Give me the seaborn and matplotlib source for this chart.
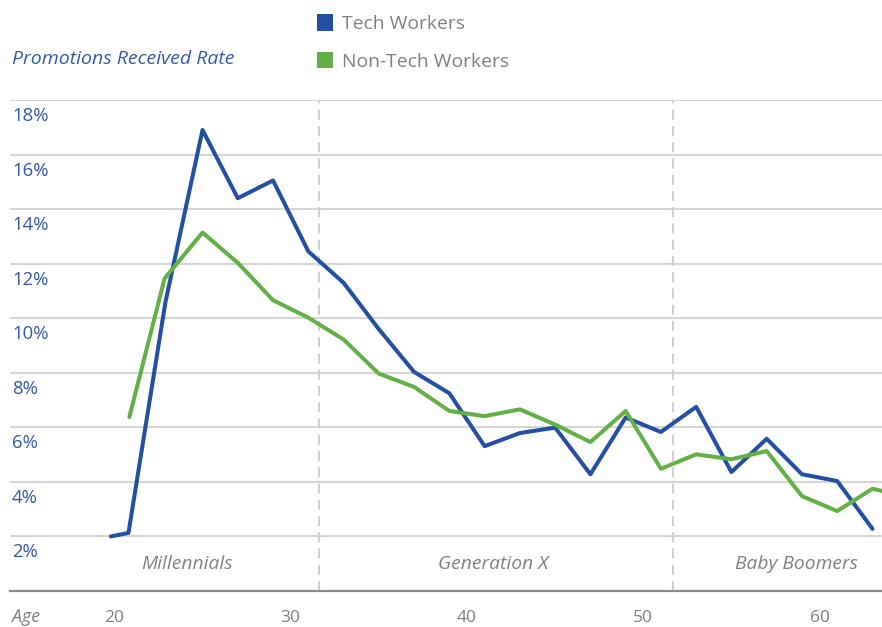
import matplotlib
matplotlib.use("Agg")
import matplotlib.pyplot as plt
import seaborn as sns
import pandas as pd
from matplotlib.patches import Patch

# ---- data ----
tech_ages = [19.8, 20.8, 22.9, 25, 27, 29, 31, 33, 35, 37, 39, 41, 43, 45, 47, 49, 51, 53, 55, 57, 59, 61, 63]
tech_vals = [2.0, 2.13, 10.6, 16.9, 14.4, 15.05, 12.45, 11.3, 9.6, 8.03, 7.25, 5.31, 5.79, 5.99, 4.28, 6.36, 5.83, 6.75, 4.36, 5.58, 4.28, 4.03, 2.28]
nontech_ages = [20.85, 22.85, 25, 27, 29, 31, 33, 35, 37, 39, 41, 43, 45, 47, 49, 51, 53, 55, 57, 59, 61, 63, 65]
nontech_vals = [6.38, 11.46, 13.14, 12.03, 10.66, 10.02, 9.22, 7.97, 7.48, 6.6, 6.41, 6.66, 6.1, 5.46, 6.6, 4.48, 5.01, 4.83, 5.13, 3.48, 2.93, 3.75, 3.45]
series_names = ["Tech Workers", "Non-Tech Workers"]
y_ticks = [2, 4, 6, 8, 10, 12, 14, 16, 18]
x_ticks = [20, 30, 40, 50, 60]
gen_bounds = [31.6, 51.7]
gen_labels = ["Millennials", "Generation X", "Baby Boomers"]
gen_label_pos = [24.1, 41.5, 58.7]

BLUE = "#2450a4"
GREEN = "#62b046"
LABEL_BLUE = "#3558a8"
GRAY_TXT = "#808080"

df = pd.concat([
    pd.DataFrame({"age": tech_ages, "rate": tech_vals, "group": series_names[0]}),
    pd.DataFrame({"age": nontech_ages, "rate": nontech_vals, "group": series_names[1]}),
], ignore_index=True)

sns.set_theme(style="white")
plt.rcParams["font.family"] = ["Open Sans", "DejaVu Sans"]

fig = plt.figure(figsize=(8.82, 6.27), dpi=100)
ax = fig.add_axes([10 / 882, 1 - 591 / 627, 872 / 882, (591 - 100) / 627])

sns.lineplot(data=df, x="age", y="rate", hue="group", palette=[BLUE, GREEN],
             hue_order=series_names, linewidth=2.9, legend=False, ax=ax,
             sort=False, estimator=None)
for ln in ax.lines:
    ln.set_solid_joinstyle("round")
    ln.set_solid_capstyle("round")
    ln.set_zorder(5)

ax.set_xlim(14.08, 63.54)
ax.set_ylim(0, 18)

# grid
ax.set_yticks(y_ticks)
ax.tick_params(axis="y", length=0, labelleft=False)
ax.grid(axis="y", color="#d6d6d6", linewidth=1.5)
ax.grid(axis="x", visible=False)
ax.set_axisbelow(True)

for s in ["top", "left", "right"]:
    ax.spines[s].set_visible(False)
ax.spines["bottom"].set_color("#8a8a8a")
ax.spines["bottom"].set_linewidth(1.6)

ax.set_xticks(x_ticks)
ax.set_xticklabels([str(t) for t in x_ticks])
ax.tick_params(axis="x", direction="in", length=7, width=1.5, color="#8a8a8a",
               labelcolor=GRAY_TXT, labelsize=12.5, pad=13.5)
ax.set_xlabel("")
ax.set_ylabel("")

# y labels below gridlines
for v in y_ticks:
    ax.annotate(f"{v}%", xy=(0, v), xycoords=("axes fraction", "data"),
                xytext=(2, -7), textcoords="offset pixels",
                ha="left", va="top", fontsize=13.3, color=LABEL_BLUE)

# generation dividers
for b in gen_bounds:
    ax.axvline(b, color="#cfcfcf", linewidth=1.5, dashes=(4.8, 3), zorder=1)
for lbl, p in zip(gen_labels, gen_label_pos):
    ax.text(p, 1.0, lbl, ha="center", va="center", fontsize=13.9, style="italic",
            color=GRAY_TXT)

# Age label
fig.text(12 / 882, 1 - 617 / 627, "Age", ha="left", va="center", fontsize=12.8,
         style="italic", color=GRAY_TXT)

# title
fig.text(12 / 882, 1 - 59 / 627, "Promotions Received Rate", ha="left", va="center",
         fontsize=14, style="italic", color=LABEL_BLUE)

# legend
handles = [Patch(facecolor=BLUE, edgecolor="none"), Patch(facecolor=GREEN, edgecolor="none")]
fig.legend(handles, series_names, loc="upper left",
           bbox_to_anchor=(317 / 882, 1 - 14 / 627), bbox_transform=fig.transFigure,
           frameon=False, fontsize=13.9, handlelength=0.85, handleheight=0.95,
           handletextpad=0.45, labelspacing=0.97, borderpad=0, borderaxespad=0,
           labelcolor=GRAY_TXT)

fig.savefig("out.png", dpi=100)
